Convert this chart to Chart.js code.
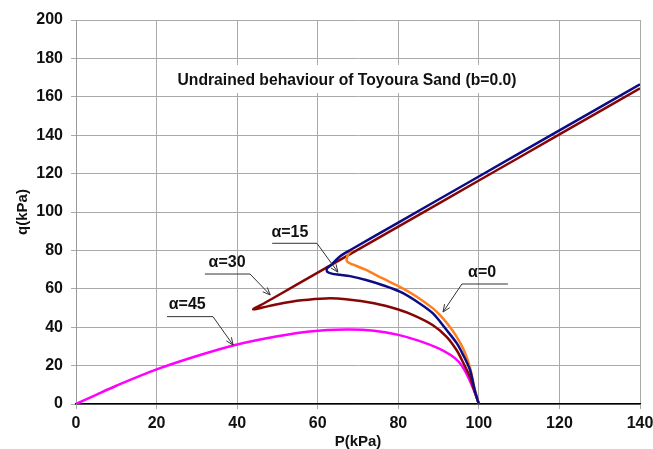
<!DOCTYPE html>
<html>
<head>
<meta charset="utf-8">
<script src="https://cdn.jsdelivr.net/npm/chart.js@4.4.1/dist/chart.umd.min.js"></script>
<style>
  html, body { margin: 0; padding: 0; background: #fff; }
</style>
</head>
<body>
<canvas id="myChart" width="653" height="449"></canvas>
<script>
// data: P (kPa) and q (kPa) for each alpha
const p15 = [100, 99, 97.8, 96, 94.5, 92, 88.6, 84.5, 80.4, 76, 72, 68, 65.5, 63.5, 62.4, 62.3, 63.3, 65.5, 68, 80, 100, 120, 140];
const q15 = [0, 7, 17.7, 26, 31.7, 38.5, 47.2, 53.5, 58.5, 62, 64.6, 66.6, 67.3, 67.9, 68.8, 70.6, 72.3, 76.8, 80.1, 94.5, 118.5, 142.5, 166.5];

const p0 = [100, 99, 97.8, 96.3, 94.5, 92.5, 90.3, 88.6, 84.5, 80.4, 76, 72, 69.5, 68, 67.3, 67.2, 67.6, 68.6];
const q0 = [0, 7.5, 19, 28, 35, 41, 46.4, 49.8, 56, 61, 65.5, 69.8, 72, 73.3, 74.2, 75.5, 78, 80.5];

const p30 = [100, 99, 97.8, 96, 94.5, 92, 88.6, 84, 80, 74, 67, 62, 56, 50, 47, 45.2, 44, 44.6, 46.5, 50, 60, 80, 100, 120, 140];
const q30 = [0, 6, 14, 22, 28, 35, 41, 46, 49.2, 52.5, 54.6, 55, 54, 52, 50.6, 49.7, 49.3, 50.2, 52.2, 56.4, 68.4, 92.4, 116.4, 140.4, 164.4];

const p45 = [0, 5, 10, 20, 30, 40, 50, 58, 67, 74, 80, 85, 90, 93, 95, 96.5, 98, 99.2, 100];
const q45 = [0, 4.8, 9.5, 18, 25, 31, 35.3, 37.8, 38.8, 38.2, 36, 33, 29, 25.5, 22, 17.5, 11, 5, 0];

const xTicks = [0, 20, 40, 60, 80, 100, 120, 140];
const yTicks = [0, 20, 40, 60, 80, 100, 120, 140, 160, 180, 200];

const chartTitle = 'Undrained behaviour of Toyoura Sand (b=0.0)';

// label text, text centre, underline (from, to, level), leader start side, arrow tip (data units)
const labels = [
  { text: 'α=15', at: [53.1, 89.1], line: [48.7, 59.8, 83.7], from: 'right', tip: [65.0, 68.7] },
  { text: 'α=30', at: [37.5, 73.4], line: [32.0, 43.2, 67.7], from: 'right', tip: [48.2, 56.8] },
  { text: 'α=45', at: [27.6, 51.6], line: [22.6, 34.0, 45.5], from: 'right', tip: [39.0, 30.7] },
  { text: 'α=0', at: [100.8, 68.2], line: [95.8, 107.2, 62.5], from: 'left', tip: [91.1, 47.9] }
];

const zip = (xs, ys) => xs.map((x, i) => ({ x: x, y: ys[i] }));

const FONT = "'Liberation Sans', Arial, sans-serif";

const notes = {
  id: 'notes',
  afterDatasetsDraw(chart) {
    const ctx = chart.ctx;
    const xs = chart.scales.x, ys = chart.scales.y;
    const X = v => xs.getPixelForValue(v);
    const Y = v => ys.getPixelForValue(v);
    ctx.save();

    // title in a white box over the grid
    ctx.font = 'bold 16px ' + FONT;
    const w = ctx.measureText(chartTitle).width;
    const cx = 347, cy = 80;
    ctx.fillStyle = '#fff';
    ctx.fillRect(cx - w / 2 - 8, 65, w + 16, 28);
    ctx.fillStyle = '#111';
    ctx.textAlign = 'center';
    ctx.textBaseline = 'middle';
    ctx.save();
    ctx.translate(cx, cy);
    ctx.scale(0.98, 1.05);
    ctx.fillText(chartTitle, 0, 0);
    ctx.restore();

    // alpha labels with leaders
    labels.forEach(l => {
      ctx.font = 'bold 16px ' + FONT;
      ctx.fillStyle = '#111';
      ctx.fillText(l.text, X(l.at[0]), Y(l.at[1]));
      const y0 = Y(l.line[2]);
      const xa = X(l.line[0]), xb = X(l.line[1]);
      const sx = l.from === 'right' ? xb : xa;
      const tx = X(l.tip[0]), ty = Y(l.tip[1]);
      ctx.strokeStyle = '#333';
      ctx.lineWidth = 1;
      ctx.beginPath();
      ctx.moveTo(xa, y0);
      ctx.lineTo(xb, y0);
      ctx.moveTo(sx, y0);
      ctx.lineTo(tx, ty);
      ctx.stroke();
      const ang = Math.atan2(ty - y0, tx - sx);
      const len = 8, spread = 0.4;
      ctx.beginPath();
      ctx.moveTo(tx - len * Math.cos(ang - spread), ty - len * Math.sin(ang - spread));
      ctx.lineTo(tx, ty);
      ctx.lineTo(tx - len * Math.cos(ang + spread), ty - len * Math.sin(ang + spread));
      ctx.stroke();
    });
    ctx.restore();
  }
};

const line = (label, pts, color) => ({
  label: label,
  data: pts,
  showLine: true,
  borderColor: color,
  backgroundColor: color,
  borderWidth: 2.5,
  pointRadius: 0,
  tension: 0.3,
  fill: false
});

const data = {
  datasets: [
    line('α=15', zip(p15, q15), '#0c0c86'),
    line('α=0', zip(p0, q0), '#ff7f1e'),
    line('α=30', zip(p30, q30), '#860606'),
    line('α=45', zip(p45, q45), '#ff00ff')
  ]
};

const tickFont = { family: FONT, size: 16, weight: 'bold' };

const config = {
  type: 'scatter',
  data,
  options: {
    responsive: false,
    animation: false,
    layout: { padding: { top: 20, right: 13, left: 0, bottom: 0 } },
    plugins: { legend: { display: false }, tooltip: { enabled: false } },
    scales: {
      x: {
        type: 'linear',
        min: 0, max: 140,
        afterFit: s => { s.height = 45; s.paddingLeft = 0; s.paddingRight = 0; },
        afterBuildTicks: s => { s.ticks = xTicks.map(v => ({ value: v })); },
        grid: { color: '#aaaaaa', tickLength: 5 },
        border: { color: '#000', width: 1.5 },
        ticks: { color: '#111', padding: 5, maxRotation: 0, font: tickFont },
        title: { display: true, text: 'P(kPa)', color: '#111', padding: 0, font: { family: FONT, size: 15, weight: 'bold', lineHeight: 1 } }
      },
      y: {
        type: 'linear',
        min: 0, max: 200,
        afterFit: s => { s.width = 76; s.paddingTop = 0; s.paddingBottom = 0; },
        afterBuildTicks: s => { s.ticks = yTicks.map(v => ({ value: v })); },
        grid: { color: '#aaaaaa', tickLength: 5 },
        border: { color: '#999' },
        ticks: { color: '#111', padding: 8, font: tickFont },
        title: { display: true, text: 'q(kPa)', color: '#111', padding: { top: 14, bottom: 0 }, font: { family: FONT, size: 15, weight: 'bold' } }
      }
    }
  },
  plugins: [notes]
};

const myChart = new Chart(document.getElementById('myChart'), config);
</script>
</body>
</html>
